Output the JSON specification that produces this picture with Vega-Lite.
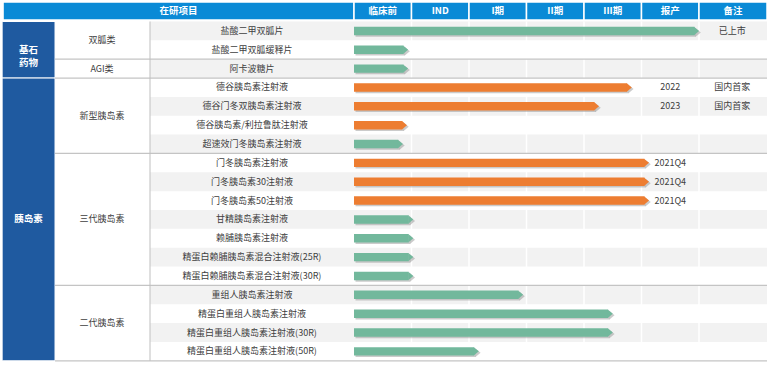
{
  "$schema": "https://vega.github.io/schema/vega-lite/v6.json",
  "width": 770,
  "height": 367,
  "autosize": {"type": "fit", "contains": "padding"},
  "padding": 0,
  "background": "white",
  "config": {"view": {"stroke": null}, "text": {"font": "Noto Sans CJK SC"}},
  "datasets": {
    "rows": [
      {"i": 0, "drug": "盐酸二甲双胍片", "progress": 6.0, "kind": "A", "launch": "", "note": "已上市"},
      {"i": 1, "drug": "盐酸二甲双胍缓释片", "progress": 0.94, "kind": "A", "launch": "", "note": ""},
      {"i": 2, "drug": "阿卡波糖片", "progress": 0.94, "kind": "A", "launch": "", "note": ""},
      {"i": 3, "drug": "德谷胰岛素注射液", "progress": 4.83, "kind": "B", "launch": "2022", "note": "国内首家"},
      {"i": 4, "drug": "德谷门冬双胰岛素注射液", "progress": 4.26, "kind": "B", "launch": "2023", "note": "国内首家"},
      {"i": 5, "drug": "德谷胰岛素/利拉鲁肽注射液", "progress": 0.92, "kind": "B", "launch": "", "note": ""},
      {"i": 6, "drug": "超速效门冬胰岛素注射液", "progress": 0.85, "kind": "A", "launch": "", "note": ""},
      {"i": 7, "drug": "门冬胰岛素注射液", "progress": 5.13, "kind": "B", "launch": "2021Q4", "note": ""},
      {"i": 8, "drug": "门冬胰岛素30注射液", "progress": 5.13, "kind": "B", "launch": "2021Q4", "note": ""},
      {"i": 9, "drug": "门冬胰岛素50注射液", "progress": 5.13, "kind": "B", "launch": "2021Q4", "note": ""},
      {"i": 10, "drug": "甘精胰岛素注射液", "progress": 1.03, "kind": "A", "launch": "", "note": ""},
      {"i": 11, "drug": "赖脯胰岛素注射液", "progress": 1.03, "kind": "A", "launch": "", "note": ""},
      {"i": 12, "drug": "精蛋白赖脯胰岛素混合注射液(25R)", "progress": 1.03, "kind": "A", "launch": "", "note": ""},
      {"i": 13, "drug": "精蛋白赖脯胰岛素混合注射液(30R)", "progress": 1.03, "kind": "A", "launch": "", "note": ""},
      {"i": 14, "drug": "重组人胰岛素注射液", "progress": 2.94, "kind": "A", "launch": "", "note": ""},
      {"i": 15, "drug": "精蛋白重组人胰岛素注射液", "progress": 4.5, "kind": "A", "launch": "", "note": ""},
      {"i": 16, "drug": "精蛋白重组人胰岛素注射液(30R)", "progress": 4.5, "kind": "A", "launch": "", "note": ""},
      {"i": 17, "drug": "精蛋白重组人胰岛素注射液(50R)", "progress": 2.17, "kind": "A", "launch": "", "note": ""}
    ],
    "header": [
      {"label": "在研项目", "c0": -6.104, "c1": 0},
      {"label": "临床前", "c0": 0, "c1": 1},
      {"label": "IND", "c0": 1, "c1": 2},
      {"label": "I期", "c0": 2, "c1": 3},
      {"label": "II期", "c0": 3, "c1": 4},
      {"label": "III期", "c0": 4, "c1": 5},
      {"label": "报产", "c0": 5, "c1": 6},
      {"label": "备注", "c0": 6, "c1": 7.183}
    ],
    "g1": [
      {"label": "基石\n药物", "first": 0, "last": 2},
      {"label": "胰岛素", "first": 3, "last": 17}
    ],
    "g2": [
      {"label": "双胍类", "first": 0, "last": 1},
      {"label": "AGI类", "first": 2, "last": 2},
      {"label": "新型胰岛素", "first": 3, "last": 6},
      {"label": "三代胰岛素", "first": 7, "last": 13},
      {"label": "二代胰岛素", "first": 14, "last": 17}
    ]
  },
  "layer": [
    {
      "data": {"name": "rows"},
      "transform": [
        {"filter": "datum.i % 2 == 0"},
        {"calculate": "datum.i - 0.5", "as": "t"},
        {"calculate": "datum.i + 0.5", "as": "b"},
        {"calculate": "-3.548", "as": "xl"},
        {"calculate": "7.183", "as": "xr"}
      ],
      "mark": {"type": "rect", "color": "#f2f2f2"},
      "encoding": {
        "x": {"field": "xl", "type": "quantitative", "axis": null, "scale": {"domain": [-6.157, 7.235], "nice": false, "zero": false}},
        "x2": {"field": "xr"},
        "y": {"field": "t", "type": "quantitative", "axis": null, "scale": {"domain": [-1.6406, 17.829], "nice": false, "zero": false, "reverse": true}},
        "y2": {"field": "b"}
      }
    },
    {
      "data": {"name": "header"},
      "transform": [
        {"filter": "datum.c0 > 0"},
        {"calculate": "-0.5", "as": "t"},
        {"calculate": "17.5", "as": "b"}
      ],
      "mark": {"type": "rule", "color": "white", "strokeWidth": 1.5},
      "encoding": {
        "x": {"field": "c0", "type": "quantitative"},
        "y": {"field": "t", "type": "quantitative"},
        "y2": {"field": "b"}
      }
    },
    {
      "data": {"name": "header"},
      "transform": [
        {"calculate": "-1.5345", "as": "t"},
        {"calculate": "-0.5796", "as": "b"},
        {"calculate": "(datum.c0 + datum.c1) / 2", "as": "m"},
        {"calculate": "-1.06", "as": "yc"}
      ],
      "layer": [
        {
          "mark": {"type": "rect", "color": "#0a8ad6", "stroke": "white", "strokeWidth": 1.5},
          "encoding": {
            "x": {"field": "c0", "type": "quantitative"},
            "x2": {"field": "c1"},
            "y": {"field": "t", "type": "quantitative"},
            "y2": {"field": "b"}
          }
        },
        {
          "mark": {"type": "text", "color": "white", "fontWeight": "bold", "fontSize": 9.5, "baseline": "middle"},
          "encoding": {
            "x": {"field": "m", "type": "quantitative"},
            "y": {"field": "yc", "type": "quantitative"},
            "text": {"field": "label", "type": "nominal"}
          }
        }
      ]
    },
    {
      "data": {"name": "g1"},
      "transform": [
        {"calculate": "datum.first - 0.5", "as": "t"},
        {"calculate": "datum.last + 0.5", "as": "b"},
        {"calculate": "(datum.first + datum.last) / 2", "as": "m"},
        {"calculate": "-6.12", "as": "xl"},
        {"calculate": "-5.2", "as": "xr"},
        {"calculate": "-5.66", "as": "xc"}
      ],
      "layer": [
        {
          "mark": {"type": "rect", "color": "#1f5aa0", "stroke": "white", "strokeWidth": 1},
          "encoding": {
            "x": {"field": "xl", "type": "quantitative"},
            "x2": {"field": "xr"},
            "y": {"field": "t", "type": "quantitative"},
            "y2": {"field": "b"}
          }
        },
        {
          "mark": {"type": "text", "color": "white", "fontWeight": "bold", "fontSize": 9.5, "baseline": "middle", "lineBreak": "\n", "lineHeight": 13},
          "encoding": {
            "x": {"field": "xc", "type": "quantitative"},
            "y": {"field": "m", "type": "quantitative"},
            "text": {"field": "label", "type": "nominal"}
          }
        }
      ]
    },
    {
      "data": {"name": "g2"},
      "transform": [
        {"calculate": "datum.last + 0.5", "as": "b"},
        {"calculate": "(datum.first + datum.last) / 2", "as": "m"},
        {"calculate": "-5.2", "as": "xl"},
        {"calculate": "7.183", "as": "xr"},
        {"calculate": "-4.383", "as": "xc"}
      ],
      "layer": [
        {
          "mark": {"type": "rule", "color": "#c4c4c4", "strokeWidth": 1.2},
          "encoding": {
            "x": {"field": "xl", "type": "quantitative"},
            "x2": {"field": "xr"},
            "y": {"field": "b", "type": "quantitative"}
          }
        },
        {
          "mark": {"type": "text", "color": "#404040", "fontSize": 9, "baseline": "middle"},
          "encoding": {
            "x": {"field": "xc", "type": "quantitative"},
            "y": {"field": "m", "type": "quantitative"},
            "text": {"field": "label", "type": "nominal"}
          }
        }
      ]
    },
    {
      "data": {"values": [{"x": -3.548, "t": -0.5, "b": 17.5}]},
      "mark": {"type": "rule", "color": "#bfbfbf", "strokeWidth": 1},
      "encoding": {
        "x": {"field": "x", "type": "quantitative"},
        "y": {"field": "t", "type": "quantitative"},
        "y2": {"field": "b"}
      }
    },
    {
      "data": {"name": "rows"},
      "transform": [
        {"calculate": "datum.i - 0.225", "as": "t"},
        {"calculate": "datum.i + 0.225", "as": "b"},
        {"calculate": "0", "as": "x0"},
        {"calculate": "-1.774", "as": "xd"},
        {"calculate": "5.5", "as": "xlaunch"},
        {"calculate": "6.58", "as": "xnote"}
      ],
      "layer": [
        {
          "mark": {"type": "text", "color": "#404040", "fontSize": 9, "baseline": "middle"},
          "encoding": {
            "x": {"field": "xd", "type": "quantitative"},
            "y": {"field": "i", "type": "quantitative"},
            "text": {"field": "drug", "type": "nominal"}
          }
        },
        {
          "mark": {"type": "rect", "color": "#8c8c8c", "opacity": 0.45, "xOffset": 1.5, "x2Offset": -3, "yOffset": 1.5, "y2Offset": 1.5},
          "encoding": {
            "x": {"field": "x0", "type": "quantitative"},
            "x2": {"field": "progress"},
            "y": {"field": "t", "type": "quantitative"},
            "y2": {"field": "b"}
          }
        },
        {
          "mark": {"type": "point", "shape": "M0,-1L1.2,0L0,1Z", "filled": true, "size": 72, "color": "#8c8c8c", "opacity": 0.45, "xOffset": -3.3, "yOffset": 1.5},
          "encoding": {
            "x": {"field": "progress", "type": "quantitative"},
            "y": {"field": "i", "type": "quantitative"}
          }
        },
        {
          "mark": {"type": "rect", "x2Offset": -4.6},
          "encoding": {
            "x": {"field": "x0", "type": "quantitative"},
            "x2": {"field": "progress"},
            "y": {"field": "t", "type": "quantitative"},
            "y2": {"field": "b"},
            "color": {"field": "kind", "type": "nominal", "legend": null, "scale": {"domain": ["A", "B"], "range": ["#72b89c", "#ed7d31"]}}
          }
        },
        {
          "mark": {"type": "point", "shape": "M0,-1L1.2,0L0,1Z", "filled": true, "size": 72, "opacity": 1, "strokeWidth": 0, "xOffset": -5},
          "encoding": {
            "x": {"field": "progress", "type": "quantitative"},
            "y": {"field": "i", "type": "quantitative"},
            "color": {"field": "kind", "type": "nominal", "legend": null}
          }
        },
        {
          "mark": {"type": "text", "color": "#404040", "fontSize": 9, "baseline": "middle"},
          "encoding": {
            "x": {"field": "xlaunch", "type": "quantitative"},
            "y": {"field": "i", "type": "quantitative"},
            "text": {"field": "launch", "type": "nominal"}
          }
        },
        {
          "mark": {"type": "text", "color": "#404040", "fontSize": 9, "baseline": "middle"},
          "encoding": {
            "x": {"field": "xnote", "type": "quantitative"},
            "y": {"field": "i", "type": "quantitative"},
            "text": {"field": "note", "type": "nominal"}
          }
        }
      ]
    }
  ]
}
